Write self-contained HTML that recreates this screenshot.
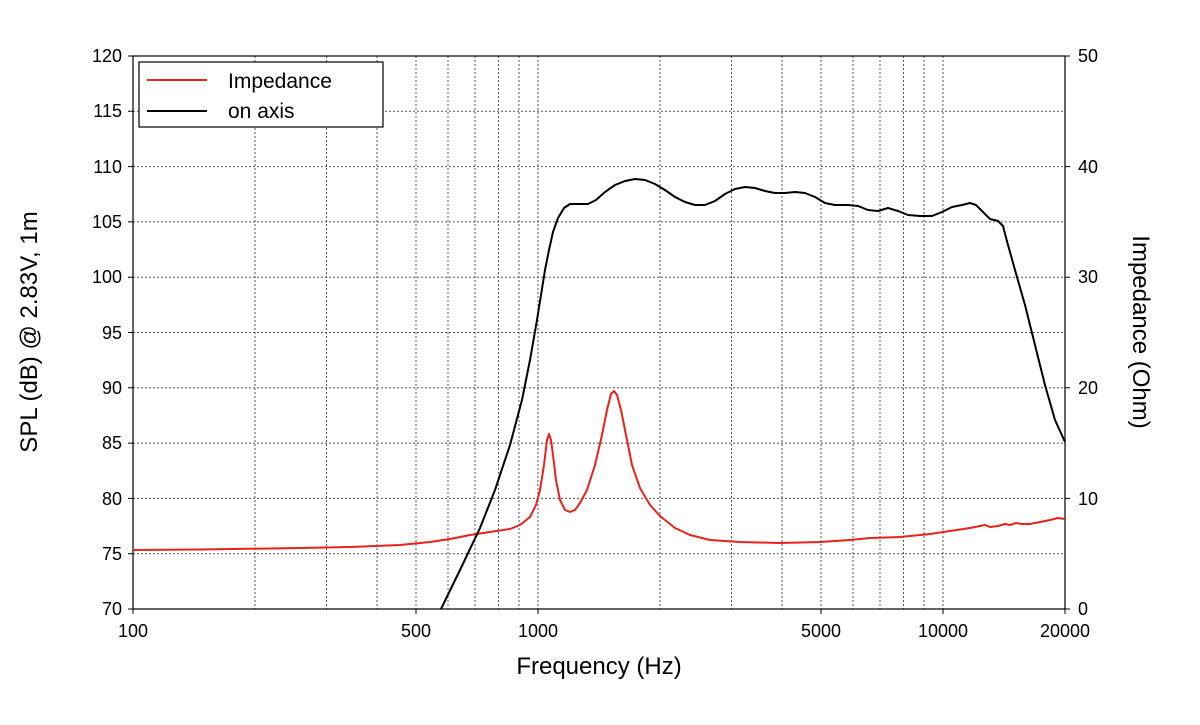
<!DOCTYPE html>
<html><head><meta charset="utf-8"><style>
body{margin:0;background:#fff;}
svg text{font-family:"Liberation Sans",sans-serif;}
</style></head><body>
<svg width="1200" height="720" viewBox="0 0 1200 720" xmlns="http://www.w3.org/2000/svg">
<g stroke="#555" stroke-width="1" stroke-dasharray="2,2" fill="none">
<path d="M133 111.3H1065M133 166.6H1065M133 221.9H1065M133 277.2H1065M133 332.5H1065M133 387.8H1065M133 443.1H1065M133 498.4H1065M133 553.7H1065"/>
<path d="M255 56V609M326.5 56V609M377 56V609M416 56V609M448 56V609M475 56V609M498.5 56V609M519 56V609M538 56V609M660 56V609M731.5 56V609M782 56V609M821 56V609M853 56V609M880 56V609M903.5 56V609M924 56V609M943 56V609"/>
</g>
<rect x="133" y="56" width="932" height="553" fill="none" stroke="#000" stroke-width="1.2"/>
<g stroke="#000" stroke-width="1">
<path d="M128 56H133M128 111.3H133M128 166.6H133M128 221.9H133M128 277.2H133M128 332.5H133M128 387.8H133M128 443.1H133M128 498.4H133M128 553.7H133M128 609H133"/>
<path d="M1065 56H1070M1065 166.6H1070M1065 277.2H1070M1065 387.8H1070M1065 498.4H1070M1065 609H1070"/>
<path d="M133 609V614M416 609V614M538 609V614M821 609V614M943 609V614M1065 609V614"/>
</g>
<g font-size="18" text-anchor="end">
<text x="122" y="62">120</text><text x="122" y="117">115</text><text x="122" y="173">110</text><text x="122" y="228">105</text><text x="122" y="283">100</text><text x="122" y="339">95</text><text x="122" y="394">90</text><text x="122" y="449">85</text><text x="122" y="505">80</text><text x="122" y="560">75</text><text x="122" y="615">70</text>
</g>
<g font-size="18" text-anchor="start">
<text x="1078" y="62">50</text><text x="1078" y="173">40</text><text x="1078" y="283">30</text><text x="1078" y="394">20</text><text x="1078" y="505">10</text><text x="1078" y="615">0</text>
</g>
<g font-size="18" text-anchor="middle">
<text x="133" y="637">100</text><text x="416" y="637">500</text><text x="538" y="637">1000</text><text x="821" y="637">5000</text><text x="943" y="637">10000</text><text x="1065" y="637">20000</text>
</g>
<text x="599" y="674" font-size="24" text-anchor="middle">Frequency (Hz)</text>
<text transform="translate(37,332) rotate(-90)" font-size="24" text-anchor="middle">SPL (dB) @ 2.83V, 1m</text>
<text transform="translate(1133,332) rotate(90)" font-size="24" text-anchor="middle">Impedance (Ohm)</text>
<polyline fill="none" stroke="#e8231b" stroke-width="2" stroke-linejoin="round" points="133,550 200,549.5 300,548 350,547 400,545 430,542 450,539 470,535 490,532 510,529 520,525 530,517 536,505 540,490 544,465 547,440 549,434 551,440 553,455 556,480 560,500 565,510 570,512 575,510 580,503 587,490 595,465 602,435 607,410 611,394 614,391 617,395 621,410 626,435 632,465 640,488 650,505 660,516 675,528 690,535 710,540 740,542 780,543 820,542 850,540 870,538 900,537 930,534 950,531 970,528 980,526 985,525 990,527 998,526 1005,524 1010,525 1016,523 1022,524 1030,524 1040,522 1050,520 1058,518 1065,519"/>
<polyline fill="none" stroke="#000" stroke-width="2" stroke-linejoin="round" points="441,609 460,570 480,528 495,490 510,445 522,400 530,360 537,320 541,295 545,270 549,250 553,232 558,218 564,208 570,204 580,204 588,204 596,200 605,192 615,185 625,181 635,179 645,180 655,184 665,190 675,197 685,202 695,205 705,205 715,201 725,194 735,189 745,187 755,188 765,191 775,193 785,193 795,192 805,193 815,197 825,203 835,205 848,205 858,206 868,210 878,211 888,208 898,211 908,215 920,216 932,216 942,212 952,207 962,205 970,203 976,205 982,211 990,219 998,221 1003,226 1008,245 1015,270 1025,305 1035,345 1045,385 1055,420 1065,442"/>
<rect x="139" y="62" width="244" height="65" fill="#fff" stroke="#000" stroke-width="1.2"/>
<line x1="147" y1="80" x2="207" y2="80" stroke="#e8231b" stroke-width="2"/>
<line x1="147" y1="111" x2="207" y2="111" stroke="#000" stroke-width="2"/>
<text x="228" y="88" font-size="21">Impedance</text>
<text x="228" y="118" font-size="21">on axis</text>
</svg>
</body></html>
